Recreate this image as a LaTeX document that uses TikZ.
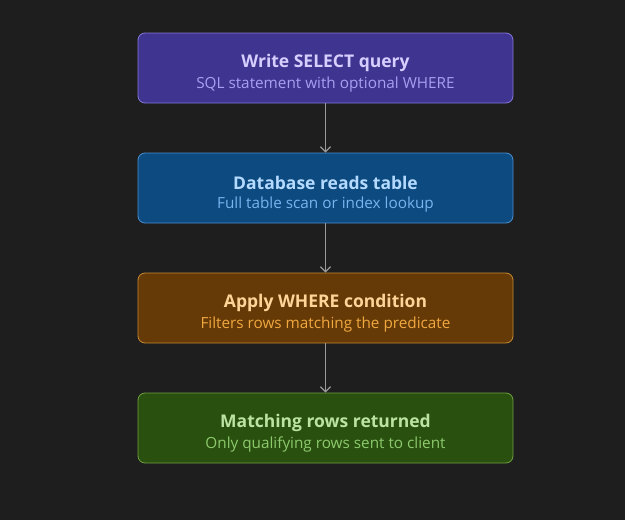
\documentclass[tikz,border=0pt]{standalone}
\usepackage{fontspec}
\setmainfont{Open Sans}
\usetikzlibrary{arrows.meta}
\definecolor{bg}{HTML}{1E1E1E}
\definecolor{aF}{HTML}{3F3590}\definecolor{aD}{HTML}{8478D8}\definecolor{aT}{HTML}{D6CEFF}\definecolor{aS}{HTML}{AA9EF2}
\definecolor{bF}{HTML}{0C4A80}\definecolor{bD}{HTML}{4A90D0}\definecolor{bT}{HTML}{B4DAFF}\definecolor{bS}{HTML}{78B4F0}
\definecolor{cF}{HTML}{653A06}\definecolor{cD}{HTML}{C88A30}\definecolor{cT}{HTML}{FFD498}\definecolor{cS}{HTML}{F0A840}
\definecolor{dF}{HTML}{2A5010}\definecolor{dD}{HTML}{70A040}\definecolor{dT}{HTML}{BCE2A4}\definecolor{dS}{HTML}{8CCA6C}
\definecolor{arr}{HTML}{9A9A9A}
\tikzset{
  stepbox/.style={rectangle, rounded corners=7pt, minimum width=375pt, minimum height=70pt, line width=0.8pt},
  ttl/.style={font=\fontsize{17.5}{20}\selectfont\bfseries},
  sub/.style={font=\fontsize{15.3}{18}\selectfont},
  conn/.style={draw=arr, line width=1.3pt, -{Straight Barb[length=5pt,width=10pt]}}
}
\begin{document}
\begin{tikzpicture}[x=1pt,y=-1pt]
\fill[bg] (0,0) rectangle (625,520);
\useasboundingbox (0,0) rectangle (625,520);
\node[stepbox, fill=aF, draw=aD] (a) at (325.5,68) {};
\node[stepbox, fill=bF, draw=bD] (b) at (325.5,188) {};
\node[stepbox, fill=cF, draw=cD] (c) at (325.5,308) {};
\node[stepbox, fill=dF, draw=dD] (d) at (325.5,428) {};
\node[ttl, text=aT] (at) at (325.5,62.5) {Write SELECT query};
\node[sub, text=aS] (as) at (325.5,84.5) {SQL statement with optional WHERE};
\node[ttl, text=bT] (bt) at (325.5,182.5) {Database reads table};
\node[sub, text=bS] (bs) at (325.5,204.5) {Full table scan or index lookup};
\node[ttl, text=cT] (ct) at (325.5,302.5) {Apply WHERE condition};
\node[sub, text=cS] (cs) at (325.5,324.5) {Filters rows matching the predicate};
\node[ttl, text=dT] (dt) at (325.5,422.5) {Matching rows returned};
\node[sub, text=dS] (ds) at (325.5,444.5) {Only qualifying rows sent to client};
\draw[conn] (a.south) -- (b.north);
\draw[conn] (b.south) -- (c.north);
\draw[conn] (c.south) -- (d.north);
\end{tikzpicture}
\end{document}
